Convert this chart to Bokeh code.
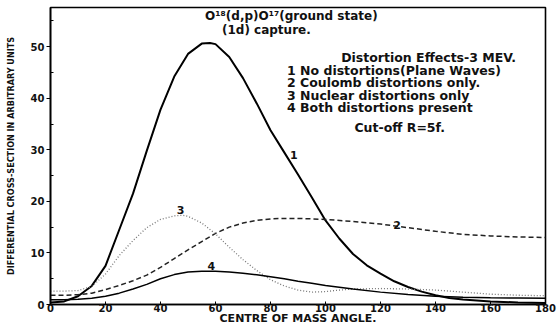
from bokeh.plotting import figure
from bokeh.models import Range1d, Label, FixedTicker
from bokeh.embed import file_html
from bokeh.resources import INLINE

# ---- data ----
angle_1 = [0, 5, 10, 15, 20, 25, 30, 35, 40, 45, 50, 55, 58, 60, 65, 70, 75, 80, 85, 90, 95,
           100, 105, 110, 115, 120, 125, 130, 135, 140, 145, 150, 160, 170, 180]
curve_1 = [0.4, 0.6, 1.6, 3.6, 7.5, 14.5, 21.5, 29.8, 37.8, 44.2, 48.6, 50.6, 50.7, 50.5, 48.0,
           43.9, 39.0, 33.8, 29.5, 25.2, 20.8, 16.3, 12.8, 9.8, 7.6, 6.0, 4.5, 3.4, 2.5, 1.8,
           1.25, 0.95, 0.6, 0.4, 0.3]

angle_2 = [0, 5, 10, 15, 20, 25, 30, 35, 40, 45, 50, 55, 60, 65, 70, 75, 80, 85, 90, 95, 100,
           110, 120, 130, 140, 150, 160, 170, 180]
curve_2 = [1.8, 1.8, 1.9, 2.2, 2.9, 3.7, 4.6, 5.7, 7.2, 8.9, 10.6, 12.2, 13.8, 15.0, 15.8, 16.3,
           16.6, 16.7, 16.7, 16.6, 16.5, 16.1, 15.6, 14.9, 14.2, 13.6, 13.3, 13.1, 13.0]

angle_3 = [0, 5, 10, 15, 20, 25, 30, 35, 40, 45, 48, 50, 55, 60, 65, 70, 75, 80, 85, 90, 95,
           100, 105, 110, 120, 130, 140, 150, 160, 170, 180]
curve_3 = [2.6, 2.6, 2.7, 3.5, 5.9, 9.5, 12.4, 14.9, 16.5, 17.2, 17.3, 17.1, 15.8, 13.7, 11.1,
           8.7, 6.6, 4.8, 3.6, 2.8, 2.4, 2.5, 2.8, 3.0, 3.1, 3.0, 2.8, 2.4, 2.0, 1.8, 1.7]

angle_4 = [0, 5, 10, 15, 20, 25, 30, 35, 40, 45, 50, 55, 60, 65, 70, 75, 80, 85, 90, 95, 100,
           110, 120, 130, 140, 150, 160, 170, 180]
curve_4 = [0.9, 0.9, 1.0, 1.2, 1.6, 2.2, 3.0, 3.9, 5.0, 5.8, 6.3, 6.45, 6.45, 6.3, 6.05, 5.75,
           5.4, 5.0, 4.5, 4.1, 3.7, 3.0, 2.4, 1.95, 1.6, 1.4, 1.3, 1.25, 1.2]

curve_names = ["1", "2", "3", "4"]
x_ticks = [0, 20, 40, 60, 80, 100, 120, 140, 160, 180]
y_ticks = [0, 10, 20, 30, 40, 50]
y_minor = [5, 15, 25, 35, 45, 55]

title_lines = ["O\u00b9\u2078(d,p)O\u00b9\u2077(ground state)", "(1d) capture."]
legend_head = "Distortion Effects-3 MEV."
legend_lines = ["1  No distortions(Plane Waves)",
                "2  Coulomb distortions only.",
                "3  Nuclear distortions only",
                "4  Both distortions present"]
cutoff_text = "Cut-off R=5f."
x_title = "CENTRE OF MASS ANGLE."
y_title = "DIFFERENTIAL CROSS-SECTION IN ARBITRARY UNITS"

# ---- figure ----
FONT = "DejaVu Sans"
p = figure(width=560, height=327, output_backend="svg", toolbar_location=None,
           x_range=Range1d(0, 180), y_range=Range1d(0, 57.6),
           min_border_left=50, min_border_right=15, min_border_top=7, min_border_bottom=16)
p.background_fill_color = "white"
p.border_fill_color = "white"
p.grid.visible = False
p.outline_line_color = "black"
p.outline_line_width = 1.6

p.xaxis.ticker = FixedTicker(ticks=x_ticks)
p.yaxis.ticker = FixedTicker(ticks=y_ticks, minor_ticks=y_minor)
for ax in (p.xaxis[0], p.yaxis[0]):
    ax.axis_line_width = 1.6
    ax.axis_line_color = "black"
    ax.major_label_text_font = FONT
    ax.major_label_text_font_style = "bold"
    ax.major_label_text_color = "#111111"
    ax.axis_label_text_color = "#111111"
    ax.axis_label_text_font = FONT
    ax.axis_label_text_font_style = "bold"

p.xaxis.major_tick_in = 3
p.xaxis.major_tick_out = 0
p.xaxis.minor_tick_in = 0
p.xaxis.minor_tick_out = 0
p.xaxis.major_label_standoff = -1
p.xaxis.major_label_text_font_size = "10px"
p.xaxis.axis_label = x_title
p.xaxis.axis_label_text_font_size = "11px"
p.xaxis.axis_label_standoff = -3

p.yaxis.major_tick_in = 0
p.yaxis.major_tick_out = 4
p.yaxis.minor_tick_in = 3
p.yaxis.minor_tick_out = 0
p.yaxis.major_label_standoff = 2
p.yaxis.major_label_text_font_size = "10px"
p.yaxis.axis_label = y_title
p.yaxis.axis_label_text_font = "DejaVu Sans Condensed"
p.yaxis.axis_label_text_font_style = "bold"
p.yaxis.axis_label_text_font_size = "9px"
p.yaxis.axis_label_standoff = 12

# curves
p.line(angle_1, curve_1, line_color="black", line_width=2.0)
p.line(angle_2, curve_2, line_color="#222222", line_width=1.5, line_dash="5 3")
p.line(angle_3, curve_3, line_color="#777777", line_width=1.3, line_dash="1 2")
p.line(angle_4, curve_4, line_color="black", line_width=1.5)

# curve number labels
curve_label_pos = [(88.5, 29.0), (126.0, 15.4), (47.3, 18.3), (58.5, 7.4)]
for name, (lx, ly) in zip(curve_names, curve_label_pos):
    p.add_layout(Label(x=lx, y=ly, text=name, text_font=FONT, text_font_style="bold",
                       text_font_size="11px", text_align="center", text_baseline="middle",
                       text_color="#111111"))

def note(x, y, text, align="left", size="12.5px"):
    p.add_layout(Label(x=x, y=y, text=text, text_font=FONT, text_font_style="bold",
                       text_font_size=size, text_align=align, text_baseline="middle",
                       text_color="#111111"))

note(87.6, 55.9, title_lines[0], align="center", size="12px")
note(78.5, 53.3, title_lines[1], align="center", size="12px")
note(137.5, 47.9, legend_head, align="center")
for i, line in enumerate(legend_lines):
    note(86.0, 45.4 - 2.4 * i, line)
note(127.0, 34.3, cutoff_text, align="center")

open("out.html", "w").write(file_html(p, INLINE))
